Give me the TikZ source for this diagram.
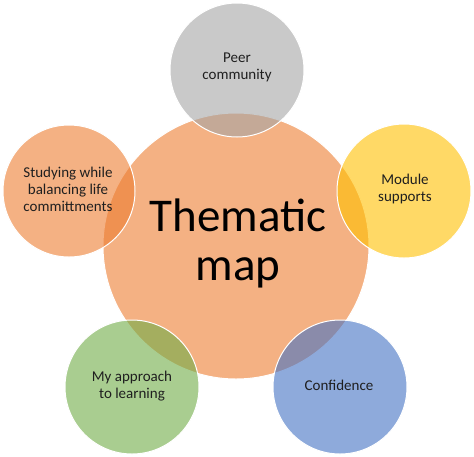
\documentclass[tikz,border=0pt]{standalone}
\usepackage{fontspec}
\setmainfont{Carlito}
\definecolor{corange}{HTML}{ED7D31}
\definecolor{cgrey}{HTML}{A5A5A5}
\definecolor{cyellow}{HTML}{FFC000}
\definecolor{cblue}{HTML}{4472C4}
\definecolor{cgreen}{HTML}{70AD47}
\definecolor{ctext}{HTML}{1F1F1F}
\begin{document}
\begin{tikzpicture}[x=1pt,y=-1pt,
  bubble/.style={circle,draw=white,line width=1pt,fill opacity=0.6,inner sep=0pt},
  lbl/.style={align=center,text=ctext,font=\fontsize{15}{17}\selectfont},
  bigl/.style={align=center,text=black,font=\fontsize{47}{49}\selectfont}]
\useasboundingbox[fill=white] (0,0) rectangle (474,456);
\node[bubble,fill=corange,minimum size=266pt] (center) at (236,246) {};
\node[bubble,fill=cgrey,minimum size=134pt] (peer) at (237,70) {};
\node[bubble,fill=corange,minimum size=132pt] (study) at (69,191) {};
\node[bubble,fill=cyellow,minimum size=134pt] (module) at (404,191) {};
\node[bubble,fill=cgreen,minimum size=134pt] (approach) at (132,387) {};
\node[bubble,fill=cblue,minimum size=134pt] (conf) at (340,387) {};
\node[bigl] (title) at (238,243) {Thematic\\map};
\node[lbl] (tpeer) at (237,67) {Peer\\community};
\node[lbl] (tstudy) at (68,189) {Studying while\\balancing life\\committments};
\node[lbl] (tmodule) at (405,189) {Module\\supports};
\node[lbl] (tapproach) at (132,386) {My approach\\to learning};
\node[lbl] (tconf) at (339,385) {Confidence};
\end{tikzpicture}
\end{document}
